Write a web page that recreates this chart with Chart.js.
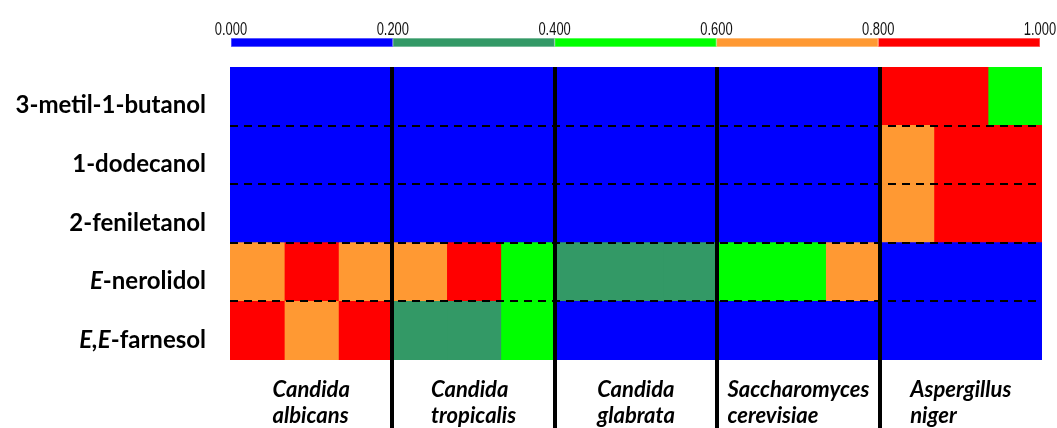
<!DOCTYPE html>
<html>
<head>
<meta charset="utf-8">
<script src="https://cdn.jsdelivr.net/npm/chart.js@4.4.1/dist/chart.umd.min.js"></script>
<style>
  html, body { margin: 0; padding: 0; background: #fff; }
  #wrap { position: relative; width: 1057px; height: 428px; overflow: hidden; }
  #heat, #scale { position: absolute; left: 0; top: 0; }
</style>
</head>
<body>
<div id="wrap">
  <canvas id="heat" width="1057" height="428"></canvas>
  <canvas id="scale" width="1057" height="60"></canvas>
</div>
<script>
/* Categories */
const compounds = ['3-metil-1-butanol', '1-dodecanol', '2-feniletanol', 'E-nerolidol', 'E,E-farnesol'];
const species = ['Candida albicans', 'Candida tropicalis', 'Candida glabrata', 'Saccharomyces cerevisiae', 'Aspergillus niger'];
const replicates = 3;

/* Colour scale: bin edges and one colour per bin */
const binEdges = [0.0, 0.2, 0.4, 0.6, 0.8, 1.0];
const binColors = ['#0000ff', '#339966', '#00ff00', '#ff9933', '#ff0000'];

/* Relative values, 3 replicates per species in the order above */
const metilButanol = [0.05, 0.05, 0.05, 0.05, 0.05, 0.05, 0.05, 0.05, 0.05, 0.05, 0.05, 0.05, 0.90, 0.90, 0.50];
const dodecanol    = [0.05, 0.05, 0.05, 0.05, 0.05, 0.05, 0.05, 0.05, 0.05, 0.05, 0.05, 0.05, 0.70, 0.90, 0.90];
const feniletanol  = [0.05, 0.05, 0.05, 0.05, 0.05, 0.05, 0.05, 0.05, 0.05, 0.05, 0.05, 0.05, 0.70, 0.90, 0.90];
const nerolidol    = [0.70, 0.90, 0.70, 0.70, 0.90, 0.50, 0.30, 0.30, 0.30, 0.50, 0.50, 0.70, 0.05, 0.05, 0.05];
const farnesol     = [0.90, 0.70, 0.90, 0.30, 0.30, 0.50, 0.05, 0.05, 0.05, 0.05, 0.05, 0.05, 0.05, 0.05, 0.05];
const rows = [metilButanol, dodecanol, feniletanol, nerolidol, farnesol];

const $ = (id) => document.getElementById(id);

function colorFor(v) {
  for (let i = 0; i < binColors.length; i += 1) {
    if (v < binEdges[i + 1]) return binColors[i];
  }
  return binColors[binColors.length - 1];
}

// lighter edge for the colour bar segments
function tint(hex) {
  const n = parseInt(hex.slice(1), 16);
  const mix = (c) => Math.round(c + (255 - c) * 0.45);
  return `rgb(${mix(n >> 16)},${mix((n >> 8) & 255)},${mix(n & 255)})`;
}

// "E-" / "E,E-" stereo prefixes are set in italics
function labelParts(label) {
  const m = label.match(/^([EZ](?:,[EZ])*)(-.*)$/);
  return m ? [[m[1], true], [m[2], false]] : [[label, false]];
}

const FONT = 'Lato, "Open Sans", sans-serif';
// no line on the outer edges (first tick, and the trailing offset line which has no tick)
const innerOnly = (w) => (ctx) => (ctx.index === 0 || ctx.tick === undefined ? 0 : w);

/* One dataset per replicate column, stacked along x */
const nCols = species.length * replicates;
const datasets = [];
for (let j = 0; j < nCols; j += 1) {
  datasets.push({
    data: rows.map(() => 1),
    backgroundColor: rows.map(r => colorFor(r[j])),
    borderWidth: 0,
    inflateAmount: 0.5,
    barPercentage: 1,
    categoryPercentage: 1,
  });
}

const labelPlugin = {
  id: 'heatLabels',
  afterDraw(chart) {
    const { ctx, chartArea } = chart;
    const y = chart.scales.y;
    const xs = chart.scales.xs;
    ctx.save();
    ctx.fillStyle = '#000';
    ctx.textBaseline = 'alphabetic';
    ctx.textAlign = 'left';

    // compound names, right aligned against the heat map
    compounds.forEach((name, i) => {
      const parts = labelParts(name);
      const fonts = parts.map(([, it]) => `${it ? 'italic ' : ''}bold 24px ${FONT}`);
      let total = 0;
      parts.forEach(([t], k) => { ctx.font = fonts[k]; total += ctx.measureText(t).width; });
      let x = chartArea.left - 24 - total;
      const yy = y.getPixelForValue(i) + 17;
      parts.forEach(([t], k) => {
        ctx.font = fonts[k];
        ctx.fillText(t, x, yy);
        x += ctx.measureText(t).width;
      });
    });

    // species names below each block, two lines, left aligned within the block
    ctx.font = `italic bold 22px ${FONT}`;
    species.forEach((name, i) => {
      const lines = name.split(' ');
      const w = Math.max(...lines.map(l => ctx.measureText(l).width));
      const x0 = xs.getPixelForValue(i) - w / 2;
      lines.forEach((l, k) => ctx.fillText(l, x0, chartArea.bottom + 37 + k * 26));
    });
    ctx.restore();
  }
};

new Chart($('heat'), {
  type: 'bar',
  data: { labels: compounds, datasets },
  options: {
    responsive: false,
    animation: false,
    indexAxis: 'y',
    layout: { padding: { top: 67, right: 15, left: 0, bottom: 0 } },
    plugins: { legend: { display: false }, tooltip: { enabled: false } },
    scales: {
      x: { type: 'linear', stacked: true, min: 0, max: nCols, display: false },
      y: {
        type: 'category', stacked: true, offset: true,
        grid: { offset: true, z: 1, color: '#000', lineWidth: innerOnly(2), drawTicks: false },
        border: { display: false, dash: [8, 6] },
        ticks: { display: false },
        afterFit: (s) => { s.width = 230; }
      },
      xs: {
        type: 'category', labels: species, position: 'bottom', offset: true,
        grid: { offset: true, z: 2, color: '#000', lineWidth: innerOnly(4), tickLength: 68 },
        border: { display: false },
        ticks: { display: false },
        afterFit: (s) => { s.height = 68; }
      }
    }
  },
  plugins: [labelPlugin]
});

/* Tick labels of the colour bar, set in a narrow face */
const barTicks = {
  id: 'barTicks',
  afterDraw(chart) {
    const { ctx } = chart;
    const sx = chart.scales.x;
    ctx.save();
    ctx.fillStyle = '#111';
    ctx.font = '19px "Liberation Sans", Arial, sans-serif';
    ctx.textAlign = 'center';
    ctx.textBaseline = 'alphabetic';
    sx.ticks.forEach((t, i) => {
      ctx.save();
      ctx.translate(sx.getPixelForTick(i), 35);
      ctx.scale(0.68, 1);
      ctx.fillText(Number(t.value).toFixed(3), 0, 0);
      ctx.restore();
    });
    ctx.restore();
  }
};

new Chart($('scale'), {
  type: 'bar',
  data: {
    labels: [''],
    datasets: binColors.map((c, i) => ({
      data: [binEdges[i + 1] - binEdges[i]],
      backgroundColor: c,
      borderColor: tint(c),
      borderWidth: 1,
      borderSkipped: false,
      barPercentage: 1,
      categoryPercentage: 1,
    }))
  },
  options: {
    responsive: false,
    animation: false,
    indexAxis: 'y',
    layout: { padding: { top: 0, right: 17, left: 231, bottom: 13 } },
    plugins: { legend: { display: false }, tooltip: { enabled: false } },
    scales: {
      x: {
        type: 'linear', position: 'top', stacked: true, min: binEdges[0], max: binEdges[binEdges.length - 1],
        grid: { display: false },
        border: { display: false },
        ticks: { stepSize: 0.2, autoSkip: false, maxRotation: 0, display: false },
        afterFit: (s) => { s.height = 38; }
      },
      y: { stacked: true, display: false }
    }
  },
  plugins: [barTicks]
});
</script>
</body>
</html>
